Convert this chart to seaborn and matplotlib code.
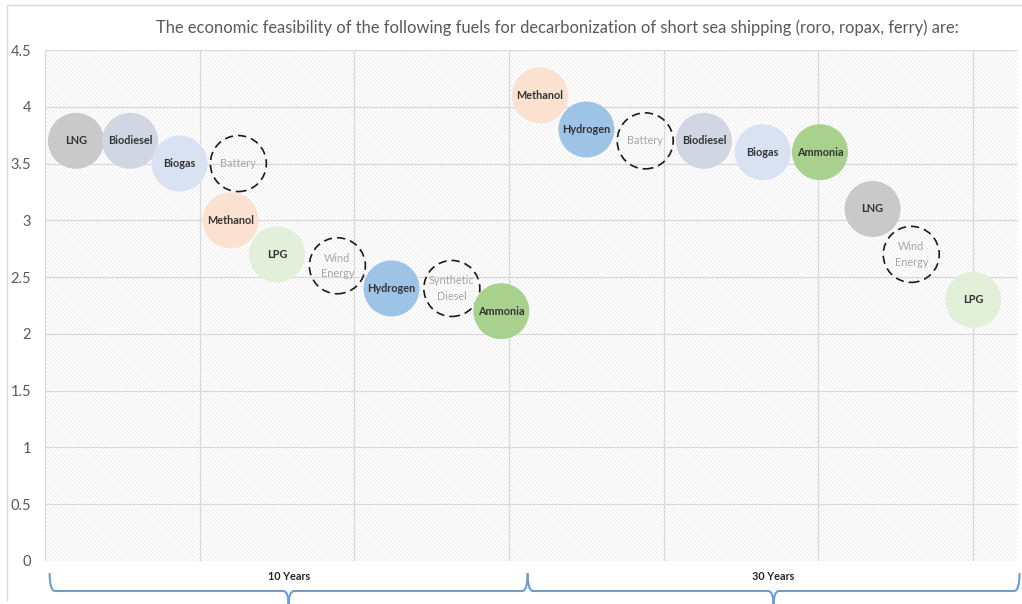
import numpy as np
import pandas as pd
import matplotlib
matplotlib.use("Agg")
import matplotlib.pyplot as plt
from matplotlib.path import Path
from matplotlib.patches import PathPatch
from matplotlib.lines import Line2D
import matplotlib.transforms as mtransforms
import seaborn as sns

# ---- data -------------------------------------------------------------
title = ("The economic feasibility of the following fuels for decarbonization "
         "of short sea shipping (roro, ropax, ferry) are:")

fuels_10 = ["LNG", "Biodiesel", "Biogas", "Battery", "Methanol", "LPG",
            "Wind Energy", "Hydrogen", "Synthetic Diesel", "Ammonia"]
x_10 = [0.20, 0.55, 0.87, 1.25, 1.20, 1.50, 1.89, 2.24, 2.63, 2.95]
y_10 = [3.7, 3.7, 3.5, 3.5, 3.0, 2.7, 2.6, 2.4, 2.4, 2.2]

fuels_30 = ["Methanol", "Hydrogen", "Battery", "Biodiesel", "Biogas",
            "Ammonia", "LNG", "Wind Energy", "LPG"]
x_30 = [3.20, 3.50, 3.88, 4.26, 4.64, 5.01, 5.35, 5.60, 6.00]
y_30 = [4.1, 3.8, 3.7, 3.7, 3.6, 3.6, 3.1, 2.7, 2.3]

horizons = ["10 Years", "30 Years"]
horizon_bounds = [(0.03, 3.12), (3.12, 6.30)]

y_ticks = [0, 0.5, 1, 1.5, 2, 2.5, 3, 3.5, 4, 4.5]
y_tick_labels = ["0", "0.5", "1", "1.5", "2", "2.5", "3", "3.5", "4", "4.5"]

# ---- styling ----------------------------------------------------------
fuel_colors = {
    "LNG": "#c9c9c9",
    "Biodiesel": "#d1d7e2",
    "Biogas": "#d9e2f3",
    "Methanol": "#fbe1d0",
    "LPG": "#e2efd9",
    "Hydrogen": "#9dc3e6",
    "Ammonia": "#a9d18e",
}
outline_only = {"Battery", "Wind Energy", "Synthetic Diesel"}
two_line = {"Wind Energy": "Wind\nEnergy", "Synthetic Diesel": "Synthetic\nDiesel"}

bubble_px = 56
bubble_s = (bubble_px * 0.72) ** 2
label_size = 7.8

sns.set_theme(style="white")
plt.rcParams["font.family"] = ["Lato", "DejaVu Sans"]
plt.rcParams["hatch.linewidth"] = 0.5

df = pd.DataFrame({
    "fuel": fuels_10 + fuels_30,
    "x": x_10 + x_30,
    "y": y_10 + y_30,
    "horizon": [horizons[0]] * len(fuels_10) + [horizons[1]] * len(fuels_30),
})
df["kind"] = np.where(df["fuel"].isin(outline_only), "outline", "filled")

fig = plt.figure(figsize=(10.22, 6.04), dpi=100)
fig.patch.set_facecolor("white")
ax = fig.add_axes([45 / 1022, 1 - 561 / 604, (1018 - 45) / 1022, (561 - 50) / 604])

# patterned plot area
ax.set_facecolor("white")
ax.add_patch(plt.Rectangle((0, 0), 1, 1, transform=ax.transAxes, facecolor="white",
                           edgecolor="#e6e6e6", linewidth=0,
                           hatch="\\\\\\\\\\\\\\\\", zorder=0))

ax.set_xlim(0, 6.29)
ax.set_ylim(0, 4.5)
ax.set_xticks(np.arange(0, 7, 1))
ax.set_yticks(y_ticks)
ax.set_yticklabels(y_tick_labels)
ax.tick_params(axis="x", labelbottom=False, length=0)
ax.tick_params(axis="y", length=0, pad=10, labelsize=10.5, labelcolor="#595959")
ax.grid(True, color="#d9d9d9", linewidth=0.9, zorder=1)
ax.set_axisbelow(True)
for sp in ax.spines.values():
    sp.set_visible(False)

# bubbles, drawn in listed order so later ones overlap earlier ones
for i, row in df.iterrows():
    sub = df.loc[[i]]
    if row["kind"] == "filled":
        sns.scatterplot(data=sub, x="x", y="y", ax=ax, s=bubble_s,
                        color=fuel_colors[row["fuel"]], edgecolor="none",
                        legend=False, zorder=3 + i * 0.01)
        ax.text(row["x"], row["y"], row["fuel"], ha="center", va="center",
                fontsize=label_size, fontweight="bold", color="#333333",
                zorder=4 + i * 0.01)
    else:
        ax.scatter(row["x"], row["y"], s=bubble_s, facecolors="none",
                   edgecolors="#1a1a1a", linewidths=1.2, linestyles=(0, (5, 3)),
                   zorder=3 + i * 0.01)
        ax.text(row["x"], row["y"], two_line.get(row["fuel"], row["fuel"]),
                ha="center", va="center", fontsize=label_size, color="#a6a6a6",
                linespacing=1.5, zorder=4 + i * 0.01)
ax.set_xlabel("")
ax.set_ylabel("")

# horizon braces beneath the plot area
trans = mtransforms.blended_transform_factory(ax.transData, fig.transFigure)
y_top = 1 - 573 / 604
y_mid = 1 - 591 / 604
y_tip = 1 - 606 / 604
d = 0.035
for label, (xa, xb) in zip(horizons, horizon_bounds):
    xm = (xa + xb) / 2
    verts = [
        (xa, y_top), (xa, y_mid), (xa + d, y_mid),
        (xm - d, y_mid),
        (xm, y_mid), (xm, y_tip),
        (xm, y_mid), (xm + d, y_mid),
        (xb - d, y_mid),
        (xb, y_mid), (xb, y_top),
    ]
    codes = [Path.MOVETO, Path.CURVE3, Path.CURVE3,
             Path.LINETO,
             Path.CURVE3, Path.CURVE3,
             Path.CURVE3, Path.CURVE3,
             Path.LINETO,
             Path.CURVE3, Path.CURVE3]
    fig.add_artist(PathPatch(Path(verts, codes), transform=trans, facecolor="none",
                             edgecolor="#6a9fd0", linewidth=1.5, clip_on=False))
    fig.text(xm, 1 - 576 / 604, label, transform=trans, ha="center", va="center",
             fontsize=label_size, fontweight="bold", color="#262626")

fig.text(557 / 1022, 1 - 28 / 604, title, ha="center", va="center",
         fontsize=11.9, color="#595959")

# outer chart frame
fig.add_artist(Line2D([7 / 1022, 7 / 1022], [1 - 5 / 604, 1 - 600 / 604],
                      transform=fig.transFigure, color="#d9d9d9", linewidth=1))
fig.add_artist(Line2D([7 / 1022, 1.0], [1 - 5 / 604, 1 - 5 / 604],
                      transform=fig.transFigure, color="#d9d9d9", linewidth=1))

fig.savefig("out.png", dpi=100)
